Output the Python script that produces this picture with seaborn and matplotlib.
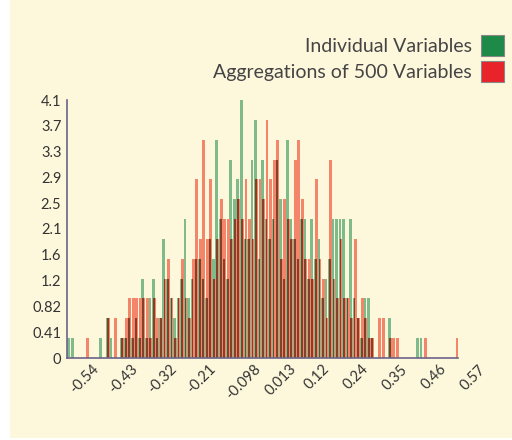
import matplotlib
matplotlib.use("Agg")
import matplotlib.pyplot as plt
import seaborn as sns
import numpy as np
import pandas as pd
from matplotlib.patches import Patch, Rectangle

# histogram counts per bin (bin width 0.01, from -0.54 to 0.57)
individual_counts = [
    1, 1, 0, 0, 0, 0, 0, 0, 0, 1, 0, 2, 1, 0, 0, 1, 1, 2, 1, 2,
    1, 4, 1, 3, 4, 1, 2, 6, 4, 3, 2, 3, 4, 7, 3, 4, 5, 5, 4, 3,
    6, 5, 11, 7, 5, 4, 10, 8, 9, 13, 6, 6, 10, 12, 5, 10, 7, 6, 7, 10,
    8, 4, 11, 7, 6, 5, 7, 7, 4, 7, 5, 6, 3, 4, 5, 7, 7, 7, 7, 3,
    7, 3, 2, 1, 3, 3, 1, 0, 0, 0, 0, 2, 0, 0, 0, 0, 0, 0, 0, 1,
    1, 0, 0, 0, 0, 0, 0, 0, 0, 0, 0,
]
aggregated_counts = [
    0, 0, 0, 0, 0, 1, 0, 0, 0, 0, 0, 2, 0, 2, 0, 1, 2, 3, 3, 3,
    3, 3, 3, 1, 3, 2, 2, 4, 5, 3, 1, 3, 5, 3, 2, 5, 9, 6, 11, 6,
    9, 4, 6, 8, 7, 7, 6, 7, 8, 7, 9, 7, 6, 9, 9, 8, 12, 9, 10, 11,
    5, 8, 7, 6, 10, 11, 8, 5, 5, 4, 9, 5, 4, 2, 10, 4, 3, 6, 3, 3,
    2, 6, 2, 3, 2, 1, 1, 0, 2, 2, 0, 1, 1, 1, 0, 0, 0, 0, 0, 0,
    0, 1, 0, 0, 0, 0, 0, 0, 0, 0, 1,
]
density_per_count = 4.1 / 13
x_min, x_max = -0.54, 0.57

x_tick_values = [-0.54, -0.429, -0.318, -0.207, -0.096, 0.015, 0.126, 0.237, 0.348, 0.459, 0.57]
x_tick_labels = ["-0.54", "-0.43", "-0.32", "-0.21", "-0.098", "0.013", "0.12", "0.24", "0.35", "0.46", "0.57"]
y_tick_values = [0, 0.41, 0.82, 1.23, 1.64, 2.05, 2.46, 2.87, 3.28, 3.69, 4.1]
y_tick_labels = ["0", "0.41", "0.82", "1.2", "1.6", "2.1", "2.5", "2.9", "3.3", "3.7", "4.1"]
legend_labels = ["Individual Variables", "Aggregations of 500 Variables"]

sns.set_style("white")
plt.rcParams['font.family'] = ['Lato', 'DejaVu Sans']

cream = '#fdf8dc'
green_light = '#7fbb8a'
red_light = '#f3866a'
overlap = '#84412a'
axis_col = '#6c6488'

n_bins = len(individual_counts)
w = (x_max - x_min) / n_bins
edges = np.linspace(x_min, x_max, n_bins + 1)
df = pd.DataFrame({
    'x': (edges[:-1] + edges[1:]) / 2,
    'g': np.array(individual_counts) * density_per_count,
    'r': np.array(aggregated_counts) * density_per_count,
})
df['both'] = np.minimum(df['g'], df['r'])

fig = plt.figure(figsize=(5.12, 4.4), dpi=100, facecolor='white')
fig.add_artist(Rectangle((10 / 512, 2 / 440), 502 / 512, 438 / 440,
                         transform=fig.transFigure, facecolor=cream, edgecolor='none', zorder=0))

ax = fig.add_axes([67 / 512, 82 / 440, 391 / 512, 258 / 440])
ax.set_facecolor('none')

# green bars, red bars nudged right, and the shared strip drawn dark
layers = [('g', green_light, 0.0, 0.8), ('r', red_light, 0.3 * w, 0.8), ('both', overlap, 0.15 * w, 0.5)]
for col, c, shift, shrink in layers:
    sns.histplot(data=df, x='x', weights=col, bins=n_bins,
                 binrange=(x_min + shift, x_max + shift), shrink=shrink,
                 color=c, alpha=1, linewidth=0, ax=ax)

ax.set_xlim(x_min, x_max)
ax.set_ylim(0, 4.1)
ax.set_xlabel('')
ax.set_ylabel('')
sns.despine(ax=ax)
for s in ['left', 'bottom']:
    ax.spines[s].set_color(axis_col)
    ax.spines[s].set_linewidth(1.2)

ax.set_xticks(x_tick_values)
ax.set_xticklabels(x_tick_labels, rotation=45, ha='left', va='top', rotation_mode='default')
ax.set_yticks(y_tick_values)
ax.set_yticklabels(y_tick_labels)
ax.tick_params(axis='both', direction='in', length=3, width=1, color=axis_col,
               labelsize=10.5, labelcolor='#333333', pad=4)
ax.tick_params(axis='x', pad=3)

handles = [Patch(facecolor='#1d8a48', edgecolor='#888888', linewidth=0.8),
           Patch(facecolor='#e8232a', edgecolor='#888888', linewidth=0.8)]
fig.legend(handles, legend_labels, loc='upper right', bbox_to_anchor=(504 / 512, 1 - 35 / 440),
           markerfirst=False, frameon=False, fontsize=14, labelcolor='#444444',
           handlelength=1.2, handleheight=1.3, handletextpad=0.45, labelspacing=0.25,
           borderpad=0, borderaxespad=0)

fig.savefig('out.png', dpi=100, facecolor='white')
